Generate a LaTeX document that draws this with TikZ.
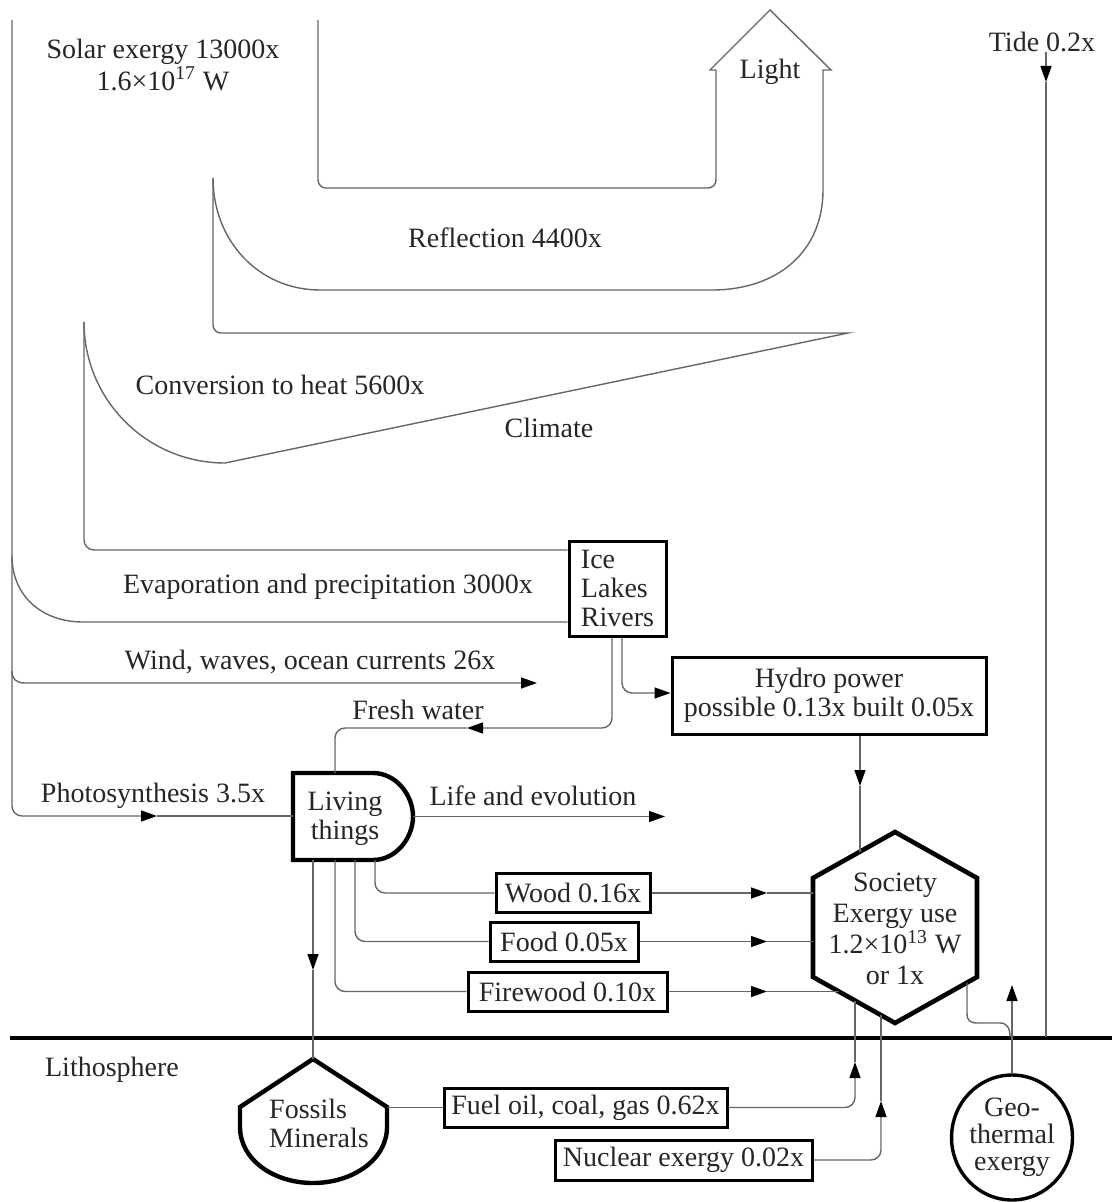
\documentclass[tikz,border=0pt]{standalone}
\usepackage{fontspec}
\setmainfont{Liberation Serif}
\usetikzlibrary{arrows.meta,shapes.geometric}
\begin{document}
\begin{tikzpicture}[x=0.5pt,y=-0.5pt,
  font=\fontsize{14}{14.5}\selectfont,
  flow/.style={draw=black!60, line width=0.7pt},
  tipend/.style={-{Triangle[length=8pt,width=5.5pt,color=black]}},
  lbl/.style={inner sep=0pt, text=black!85},
  box/.style={draw=black, line width=1.5pt, fill=white, inner sep=0pt, text=black!85, align=center},
  heavy/.style={draw=black, line width=2pt}]
\useasboundingbox (0,0) rectangle (1112,1202);

% ground line
\coordinate (gL) at (10,1037.5);
\coordinate (gR) at (1112,1037.5);
\draw[heavy] (gL) -- (gR);

% labels
\node[lbl, align=center] (solar) at (163,65) {Solar exergy 13000x\\1.6×10\textsuperscript{17} W};
\node[lbl] (light) at (770,72) {Light};
\node[lbl] (tide) at (1042,42) {Tide 0.2x};
\node[lbl] (refl) at (505,238) {Reflection 4400x};
\node[lbl] (conv) at (280,385) {Conversion to heat 5600x};
\node[lbl] (clim) at (549,428) {Climate};
\node[lbl] (evap) at (328,587) {Evaporation and precipitation 3000x};
\node[lbl] (wind) at (310,662) {Wind, waves, ocean currents 26x};
\node[lbl] (fresh) at (418,710) {Fresh water};
\node[lbl] (photo) at (153,796) {Photosynthesis 3.5x};
\node[lbl] (life) at (533,796) {Life and evolution};
\node[lbl] (litho) at (112,1070) {Lithosphere};

% boxes
\node[box, minimum width=48.5pt, minimum height=47.5pt, align=left] (ice) at (617.5,588.5) {Ice\\Lakes\\Rivers};
\node[box, minimum width=157pt, minimum height=38.5pt] (hydro) at (829,695.5) {Hydro power\\possible 0.13x built 0.05x};
\node[box, minimum width=77pt, minimum height=19.5pt] (wood) at (573,893) {Wood 0.16x};
\node[box, minimum width=74pt, minimum height=19.5pt] (food) at (564,941.5) {Food 0.05x};
\node[box, minimum width=99.5pt, minimum height=19.5pt] (fire) at (567.5,991.5) {Firewood 0.10x};
\node[box, minimum width=141.5pt, minimum height=19.5pt] (fuel) at (585.5,1107.5) {Fuel oil, coal, gas 0.62x};
\node[box, minimum width=128.5pt, minimum height=20pt] (nuc) at (683.5,1160) {Nuclear exergy 0.02x};

% Living things
\draw[heavy, line width=2.2pt, fill=white] (293,773) -- (373,773) .. controls (396,773) and (413,795) .. (413,816.5) .. controls (413,838) and (396,860) .. (373,860) -- (293,860) -- cycle;
\node[lbl, align=center] (lt) at (345,819) {Living\\things};
\coordinate (ltW) at (293,816);
\coordinate (ltE) at (413,816.5);
\coordinate (ltTop) at (335,773);
\coordinate (ltB1) at (313,860);
\coordinate (ltB2) at (335,860);
\coordinate (ltB3) at (355,860);
\coordinate (ltB4) at (375,860);

% Society hexagon
\draw[heavy, line width=2.3pt, fill=white] (895,832) -- (977,878) -- (977,977) -- (895,1023) -- (813,977) -- (813,878) -- cycle;
\node[lbl, align=center, font=\fontsize{14}{15.5}\selectfont] (soc) at (895,929) {Society\\Exergy use\\1.2×10\textsuperscript{13} W\\or 1x};
\coordinate (sH) at (860,851.6);
\coordinate (sW) at (813,893);
\coordinate (sF) at (813,941.5);
\coordinate (sFw) at (838.8,991.5);
\coordinate (sFu) at (855,1000.6);
\coordinate (sN) at (881,1015.2);
\coordinate (sOut) at (967,982.6);

% Fossils
\draw[heavy, line width=2.2pt, fill=white] (313,1059) -- (387,1107) -- (387,1127) .. controls (387,1160) and (352,1183) .. (313,1183) .. controls (274,1183) and (240,1160) .. (240,1127) -- (240,1107) -- cycle;
\node[lbl, align=left] (fos) at (319,1123) {Fossils\\Minerals};
\coordinate (fosTop) at (313,1059);
\coordinate (fosE) at (387,1107.5);

% Geothermal
\node[draw=black, line width=1.7pt, ellipse, inner sep=0pt, minimum width=60pt, minimum height=62.5pt, align=center, text=black!85, font=\fontsize{14}{13.5}\selectfont] (geo) at (1012,1137.5) {Geo-\\thermal\\exergy};

% solar bands
\coordinate (solarTop) at (12,20);
\coordinate (photoTip) at (157,816);
\draw[flow, tipend, rounded corners=5pt] (solarTop) -- (12,816) -- (photoTip);
\draw[flow] (photoTip) -- (ltW);

\draw[flow, rounded corners=4pt] (318,20) -- (318,188) -- (716,188) -- (716,70);
\draw[flow] (716,70) -- (710,70) -- (770,10) -- (831,70) -- (823,70) -- (823,190)
   .. controls (823,252) and (777,290) .. (712,290) -- (320,290)
   .. controls (259,290) and (213,241) .. (213,178);
\draw[flow, rounded corners=4pt] (213,178) -- (213,333) -- (700,333);
\draw[flow] (700,333) -- (848,333) -- (225,463) .. controls (147,463) and (84,400) .. (84,322);
\draw[flow, rounded corners=5pt] (84,322) -- (84,550) -- (ice.west |- 0,550);
\draw[flow] (12,556) .. controls (12,596) and (42,622) .. (83,622) -- (ice.west |- 0,622);
\coordinate (windTip) at (537,683);
\draw[flow, tipend] (12,671) .. controls (12,679) and (16,683) .. (25,683) -- (windTip);

% water
\coordinate (freshTip) at (467,728);
\draw[flow, tipend, rounded corners=5pt] (ice.south -| 612,0) -- (612,728) -- (freshTip);
\draw[flow, rounded corners=5pt] (freshTip) -- (335,728) -- (ltTop);
\draw[flow, tipend, rounded corners=5pt] (ice.south -| 622,0) -- (622,693) -- (hydro.west |- 0,693);
\coordinate (hydTip) at (860,786);
\draw[flow, tipend] (hydro.south -| hydTip) -- (hydTip);
\draw[flow] (hydTip) -- (sH);

% life
\coordinate (lifeTip) at (665,816.5);
\draw[flow, tipend] (ltE) -- (lifeTip);

% living things outputs
\coordinate (fosTip) at (313,970);
\draw[flow, tipend] (ltB1) -- (fosTip);
\draw[flow] (fosTip) -- (fosTop);

\draw[flow, rounded corners=5pt] (ltB4) |- (wood.west);
\coordinate (woodTip) at (767,893);
\draw[flow, tipend] (wood.east) -- (woodTip);
\draw[flow] (woodTip) -- (sW);

\draw[flow, rounded corners=5pt] (ltB3) |- (food.west);
\coordinate (foodTip) at (767,941.5);
\draw[flow, tipend] (food.east) -- (foodTip);
\draw[flow] (foodTip) -- (sF);

\draw[flow, rounded corners=5pt] (ltB2) |- (fire.west);
\coordinate (fireTip) at (767,991.5);
\draw[flow, tipend] (fire.east) -- (fireTip);
\draw[flow] (fireTip) -- (sFw);

% fossil fuels and nuclear
\draw[flow] (fosE) -- (fuel.west);
\coordinate (fuelTip) at (855,1062);
\draw[flow, tipend, rounded corners=5pt] (fuel.east) -| (fuelTip);
\draw[flow] (fuelTip) -- (sFu);
\coordinate (nucTip) at (881,1101);
\draw[flow, tipend, rounded corners=5pt] (nuc.east) -| (nucTip);
\draw[flow] (nucTip) -- (sN);

% geothermal
\coordinate (geoTip) at (1012,985);
\draw[flow, tipend] (geo.north) -- (geoTip);

% society output to ground
\coordinate (outEnd) at (1010,1037);
\draw[flow] (sOut) -- (967,1013) .. controls (967,1021) and (970,1023) .. (978,1023) -- (1000,1023) .. controls (1007,1023) and (1010,1028) .. (outEnd);

% tide
\coordinate (tideTip) at (1046,82);
\coordinate (tideEnd) at (1046,1037);
\draw[flow, tipend] (tide.south -| tideTip) -- (tideTip);
\draw[flow] (tideTip) -- (tideEnd);
\end{tikzpicture}
\end{document}
